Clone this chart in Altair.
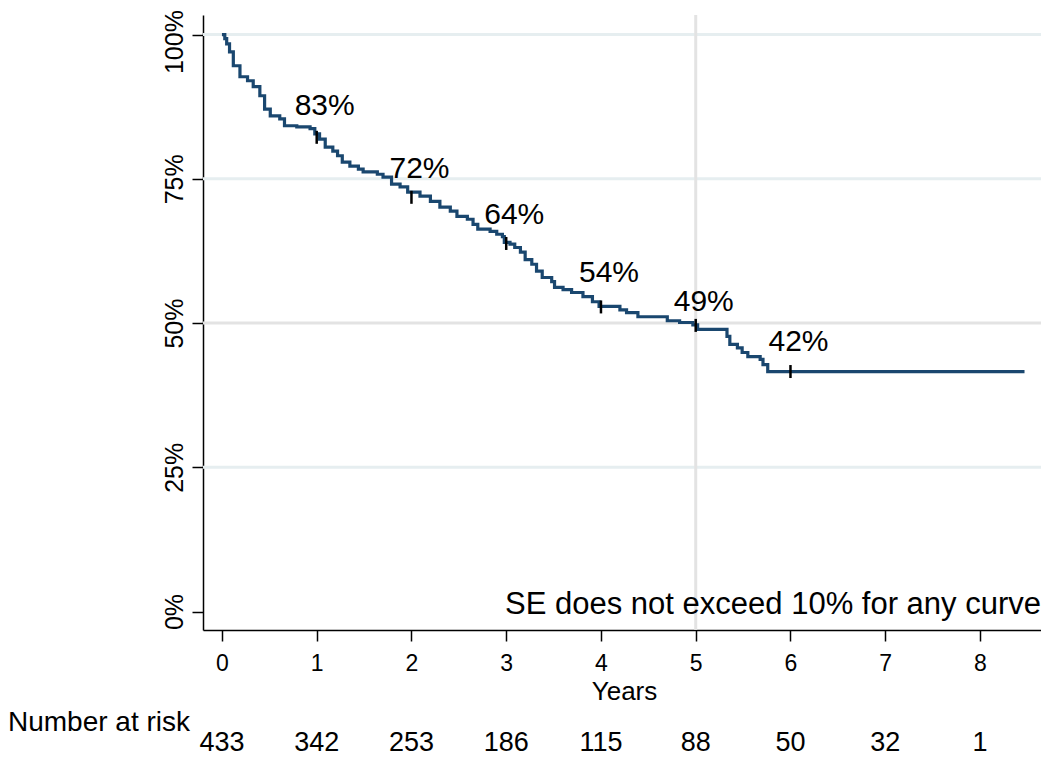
import altair as alt
import pandas as pd

# Kaplan-Meier curve (years, survival %)
times = [0.00, 0.03, 0.05, 0.08, 0.12, 0.19, 0.27, 0.33, 0.40, 0.45,
         0.51, 0.61, 0.66, 0.79, 0.93, 0.98, 1.03, 1.09, 1.17, 1.22,
         1.27, 1.35, 1.44, 1.49, 1.64, 1.70, 1.79, 1.88, 1.96, 2.09,
         2.20, 2.30, 2.41, 2.48, 2.59, 2.65, 2.70, 2.83, 2.90, 2.96,
         2.98, 3.04, 3.09, 3.15, 3.20, 3.27, 3.32, 3.38, 3.48, 3.51,
         3.60, 3.69, 3.81, 3.91, 3.98, 4.20, 4.27, 4.39, 4.70, 4.83,
         4.97, 5.02, 5.33, 5.36, 5.44, 5.49, 5.55, 5.68, 5.71, 5.76,
         8.47]
survival = [100.0, 99.3, 98.4, 97.0, 94.6, 92.7, 92.0, 91.0, 89.4, 87.1,
            85.9, 85.4, 84.2, 84.0, 83.7, 82.8, 81.9, 80.5, 79.8, 79.0,
            77.9, 77.2, 76.7, 76.2, 75.8, 75.3, 74.1, 73.6, 72.7, 72.0,
            71.1, 70.1, 69.4, 68.5, 68.0, 67.1, 66.3, 65.9, 65.4, 65.0,
            64.0, 63.7, 63.1, 62.3, 61.0, 60.2, 59.0, 57.9, 57.2, 56.2,
            55.8, 55.3, 54.6, 53.7, 52.9, 52.3, 51.8, 51.1, 50.4, 50.1,
            49.7, 48.9, 47.7, 46.3, 45.7, 44.9, 44.2, 43.7, 42.8, 41.6,
            41.6]

# yearly markers and annotations
mark_years = [1, 2, 3, 4, 5, 6]
mark_values = [82.2, 71.8, 63.8, 52.8, 49.6, 41.6]
label_values = [83, 72, 64, 54, 49, 42]
label_texts = ["83%", "72%", "64%", "54%", "49%", "42%"]

# risk table
risk_years = [0, 1, 2, 3, 4, 5, 6, 7, 8]
risk_numbers = ["433", "342", "253", "186", "115", "88", "50", "32", "1"]

grid_values = [25, 75, 100]
ref_y = [50]
ref_x = [5]

FONT = "Liberation Sans"
NAVY = "#1a476f"

curve_df = pd.DataFrame({"t": times, "s": survival})
marks_df = pd.DataFrame({"t": mark_years, "s": mark_values,
                         "lv": label_values, "lab": label_texts})
risk_df = pd.DataFrame({"t": risk_years, "n": risk_numbers})

xsc = alt.Scale(domain=[-0.2, 8.644], nice=False, zero=False)
ysc = alt.Scale(domain=[-3.2, 103.4], nice=False, zero=False)

xaxis = alt.Axis(values=list(range(9)), format="d", tickSize=11,
                 labelFontSize=23, labelPadding=11, labelOverlap=False,
                 title="Years", titleFontSize=26, titleFontWeight="normal",
                 titleX=421, titleY=69.5, titleBaseline="alphabetic",
                 titleAlign="center")
yaxis = alt.Axis(values=[0, 25, 50, 75, 100], labelExpr="datum.value + '%'",
                 tickSize=11, labelFontSize=25, labelAngle=-90,
                 labelAlign="center", labelBaseline="alphabetic",
                 labelOffset={"condition": {"test": "datum.value == 100", "value": 7},
                              "value": 0},
                 labelPadding=10, labelOverlap=False, labelBound=False,
                 title=None)

X = lambda f: alt.X(f, scale=xsc, axis=xaxis)
Y = lambda f: alt.Y(f, scale=ysc, axis=yaxis)

grid = alt.Chart(pd.DataFrame({"v": grid_values})).mark_rule(
    color="#e6eef0", strokeWidth=3
).encode(y=Y("v:Q"))

ref_h = alt.Chart(pd.DataFrame({"v": ref_y})).mark_rule(
    color="#e3e3e3", strokeWidth=3
).encode(y=Y("v:Q"))

ref_v = alt.Chart(pd.DataFrame({"v": ref_x})).mark_rule(
    color="#e3e3e3", strokeWidth=3
).encode(x=X("v:Q"))

curve = alt.Chart(curve_df).mark_line(
    color=NAVY, strokeWidth=3.2, interpolate="step-after"
).encode(x=X("t:Q"), y=Y("s:Q"))

ticks = alt.Chart(marks_df).mark_tick(
    orient="vertical", size=13, thickness=2.5, color="black", opacity=1
).encode(x=X("t:Q"), y=Y("s:Q"))

labels = alt.Chart(marks_df).mark_text(
    font=FONT, fontSize=30, color="black", align="center",
    baseline="alphabetic", dx=8, dy=-18
).encode(x=X("t:Q"), y=Y("lv:Q"), text="lab:N")

note = alt.Chart(pd.DataFrame({"txt": ["SE does not exceed 10% for any curve"]})).mark_text(
    font=FONT, fontSize=31, color="black", align="right", baseline="alphabetic"
).encode(x=alt.value(838), y=alt.value(599), text="txt:N")

risk_title = alt.Chart(pd.DataFrame({"txt": ["Number at risk"]})).mark_text(
    font=FONT, fontSize=28, color="black", align="left", baseline="alphabetic"
).encode(x=alt.value(-195), y=alt.value(716), text="txt:N")

risk = alt.Chart(risk_df).mark_text(
    font=FONT, fontSize=27, color="black", align="center", baseline="alphabetic"
).encode(x=X("t:Q"), y=alt.value(736), text="n:N")

chart = alt.layer(
    grid, ref_h, ref_v, curve, ticks, labels, note, risk_title, risk
).properties(
    width=838, height=615,
    autosize=alt.AutoSizeParams(type="none"),
    padding={"left": 195, "top": 7, "right": 0, "bottom": 127},
).configure_view(stroke=None).configure_axis(
    grid=False, domainColor="black", domainWidth=1.5, tickColor="black",
    tickWidth=1.5, labelColor="black", titleColor="black",
    labelFont=FONT, titleFont=FONT
)

chart.save("out.html", embed_options={"renderer": "svg", "actions": False})
